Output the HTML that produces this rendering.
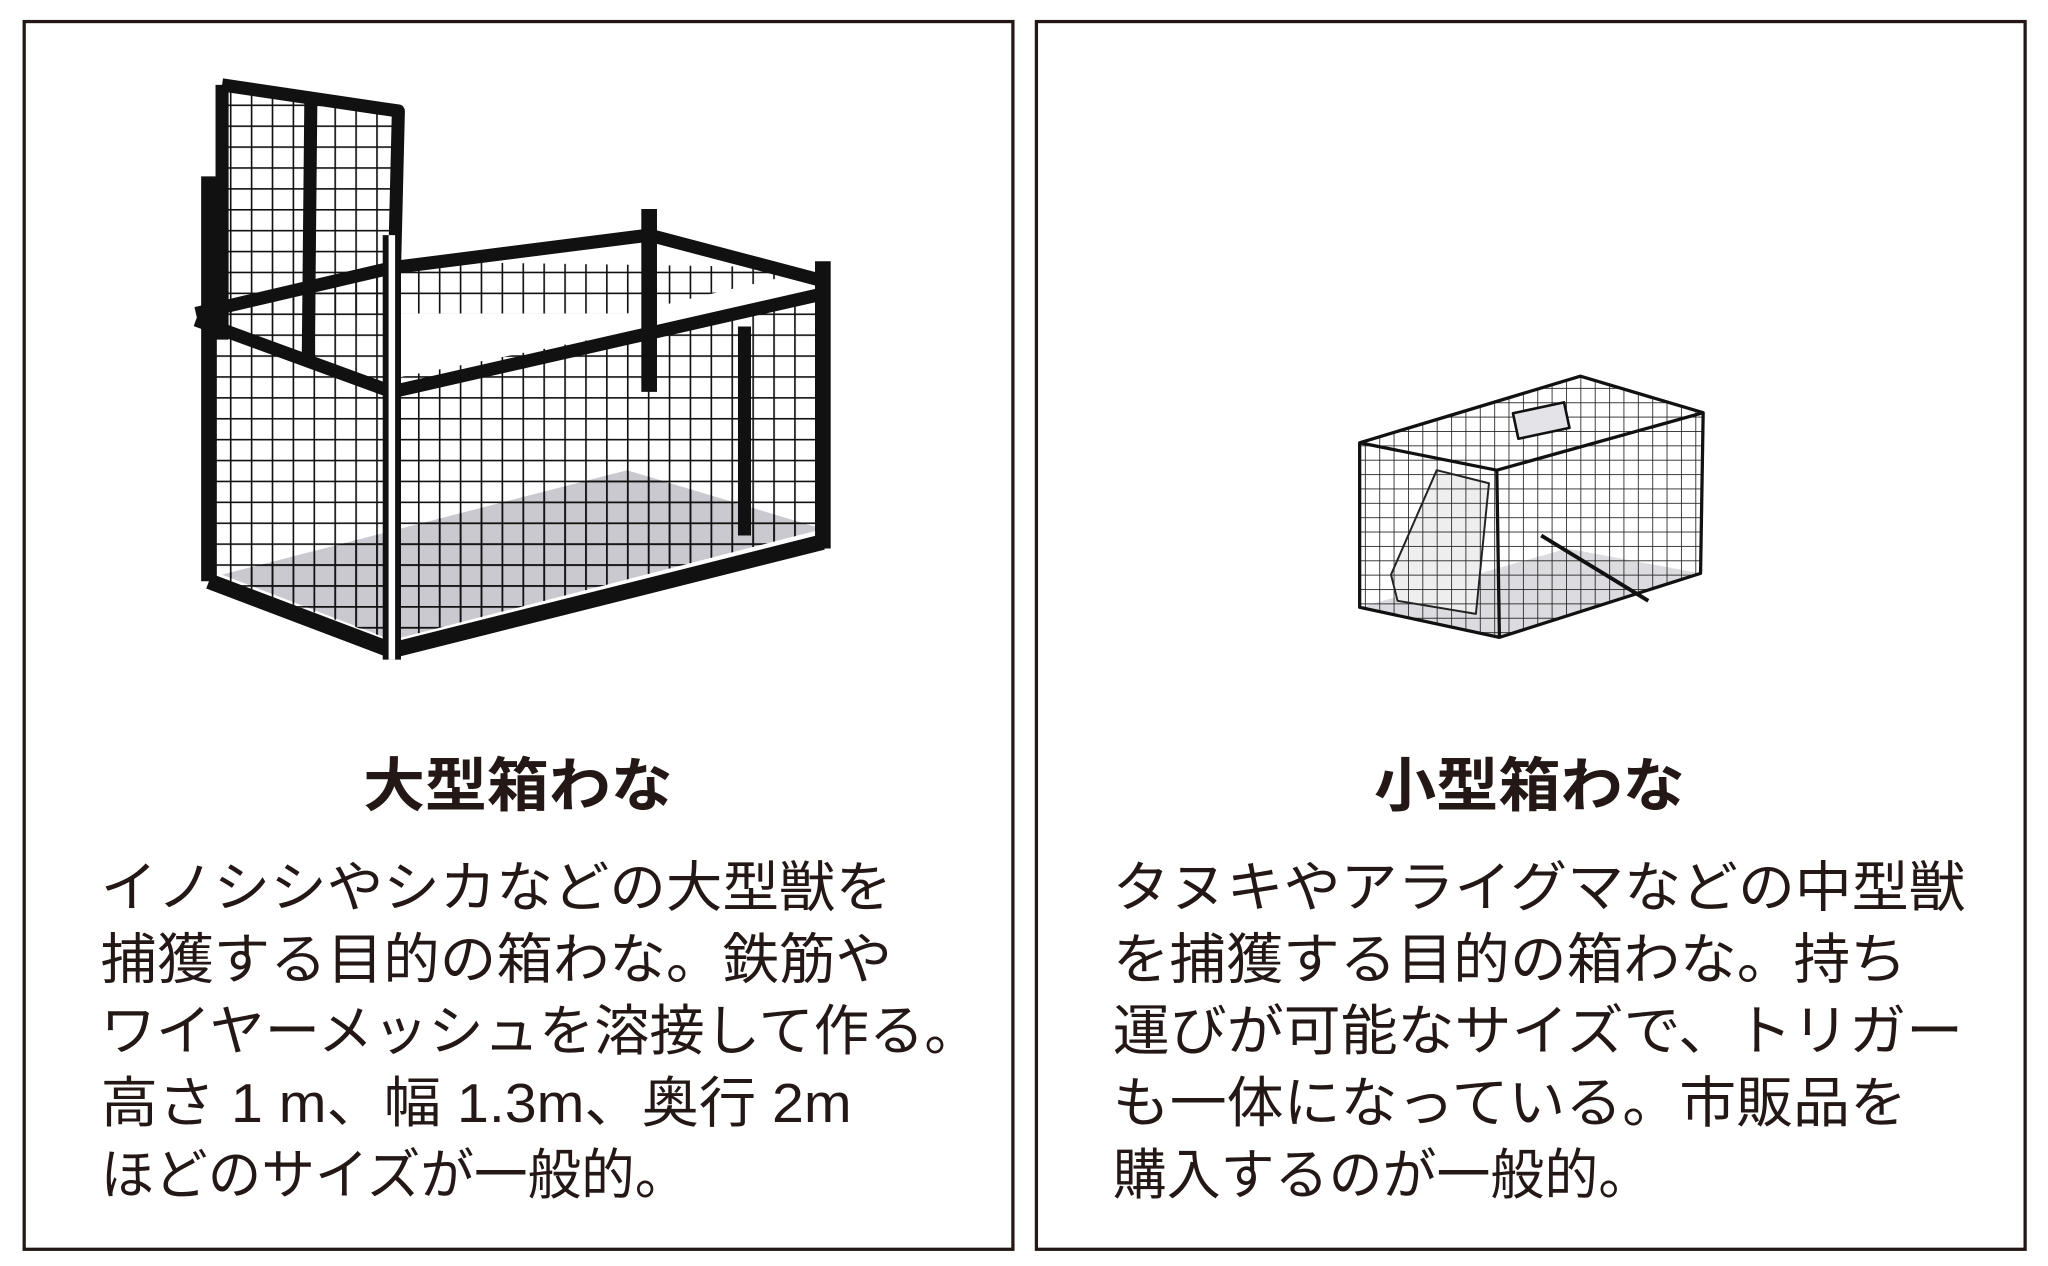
<!DOCTYPE html>
<html><head><meta charset="utf-8"><style>
html,body{margin:0;padding:0;background:#fff;width:2048px;height:1266px;overflow:hidden}
svg{display:block}
text{font-family:"Liberation Sans","Noto Sans CJK JP",sans-serif;fill:#231815}
</style></head><body>
<svg width="2048" height="1266" viewBox="0 0 1568 969.3" xmlns="http://www.w3.org/2000/svg">
<defs>
<pattern id="g1" width="16" height="16" patternUnits="userSpaceOnUse"><path d="M0 0H16M0 0V16" stroke="#111" stroke-width="2.5" fill="none"/></pattern>
<pattern id="g2" width="11" height="11" patternUnits="userSpaceOnUse"><path d="M0 0H11M0 0V11" stroke="#222" stroke-width="1.3" fill="none"/></pattern>
</defs>
<rect x="18.5" y="16.5" width="757" height="940" fill="none" stroke="#231815" stroke-width="2.5"/>
<rect x="793.5" y="16.5" width="757" height="940" fill="none" stroke="#231815" stroke-width="2.5"/>

<!-- large cage -->
<g stroke="#111" stroke-linejoin="round">
<polygon points="170,440 300,490 630,405 480,360" fill="#c9c9cf" stroke="none"/>
<polygon points="170,440 300,490 630,405 480,360" fill="url(#g1)" stroke="none"/>
<polygon points="170,240 300,200 630,205 480,240" fill="url(#g1)" stroke="none"/>
<polygon points="300,290 630,225 630,405 300,490" fill="url(#g1)" stroke="none"/>
<polygon points="160,250 300,290 300,490 160,440" fill="url(#g1)" stroke="none"/>
<polygon points="170,65 305,85 300,290 170,255" fill="url(#g1)" stroke="none"/>
<polyline points="170,65 305,85 300,290" fill="none" stroke-width="10"/>
<line x1="170" y1="65" x2="170" y2="260" stroke-width="10"/>
<line x1="238" y1="75" x2="236" y2="275" stroke-width="10"/>
<line x1="160" y1="135" x2="160" y2="445" stroke-width="12"/>
<line x1="300" y1="180" x2="300" y2="505" stroke-width="14"/>
<line x1="630" y1="200" x2="630" y2="420" stroke-width="12"/>
<line x1="497" y1="160" x2="497" y2="300" stroke-width="12"/>
<line x1="570" y1="250" x2="570" y2="410" stroke-width="10"/>
<polyline points="150,240 300,205 497,180 630,215" fill="none" stroke-width="10"/>
<polyline points="150,245 300,300 630,225" fill="none" stroke-width="10"/>
<polyline points="160,445 300,498 630,415" fill="none" stroke-width="12"/>
<line x1="300" y1="180" x2="300" y2="505" stroke="#fff" stroke-width="5"/>
</g>

<!-- small cage -->
<g stroke="#111" stroke-linejoin="round">
<polygon points="1041,465 1148,488 1302,439 1200,420" fill="#dcdce0" stroke="none"/>
<polygon points="1065,440 1100,360 1140,370 1130,470 1070,460" fill="#eee" stroke="#222" stroke-width="1.5"/>
<polygon points="1041,339 1210,288 1304,316 1146,360" fill="url(#g2)" stroke="none"/>
<polygon points="1146,360 1304,316 1302,439 1148,488" fill="url(#g2)" stroke="none"/>
<polygon points="1041,339 1146,360 1148,488 1041,465" fill="url(#g2)" stroke="none"/>
<polygon points="1041,339 1210,288 1304,316 1302,439 1148,488 1041,465" fill="none" stroke-width="2.5"/>
<polyline points="1041,339 1146,360 1304,316" fill="none" stroke-width="2.5"/>
<line x1="1146" y1="360" x2="1148" y2="488" stroke-width="2.5"/>
<line x1="1180" y1="410" x2="1262" y2="460" stroke-width="3"/>
<rect x="1160" y="312" width="40" height="20" fill="#e4e4e8" stroke-width="2" transform="rotate(-12 1180 322)"/>
</g>

<text x="278" y="617" font-size="45" font-weight="bold" textLength="237" lengthAdjust="spacingAndGlyphs">大型箱わな</text>
<text x="1052" y="617" font-size="45" font-weight="bold" textLength="238" lengthAdjust="spacingAndGlyphs">小型箱わな</text>
<g font-size="42">
<text x="77" y="694" textLength="606" lengthAdjust="spacingAndGlyphs">イノシシやシカなどの大型獣を</text>
<text x="77" y="749" textLength="606" lengthAdjust="spacingAndGlyphs">捕獲する目的の箱わな。鉄筋や</text>
<text x="77" y="804" textLength="673" lengthAdjust="spacingAndGlyphs">ワイヤーメッシュを溶接して作る。</text>
<text x="77" y="859" textLength="575" lengthAdjust="spacingAndGlyphs">高さ 1 m、幅 1.3m、奥行 2m</text>
<text x="77" y="914" textLength="450" lengthAdjust="spacingAndGlyphs">ほどのサイズが一般的。</text>
<text x="852" y="694" textLength="653" lengthAdjust="spacingAndGlyphs">タヌキやアライグマなどの中型獣</text>
<text x="852" y="749" textLength="608" lengthAdjust="spacingAndGlyphs">を捕獲する目的の箱わな。持ち</text>
<text x="852" y="804" textLength="651" lengthAdjust="spacingAndGlyphs">運びが可能なサイズで、トリガー</text>
<text x="852" y="859" textLength="608" lengthAdjust="spacingAndGlyphs">も一体になっている。市販品を</text>
<text x="852" y="914" textLength="413" lengthAdjust="spacingAndGlyphs">購入するのが一般的。</text>
</g>
</svg>
</body></html>
